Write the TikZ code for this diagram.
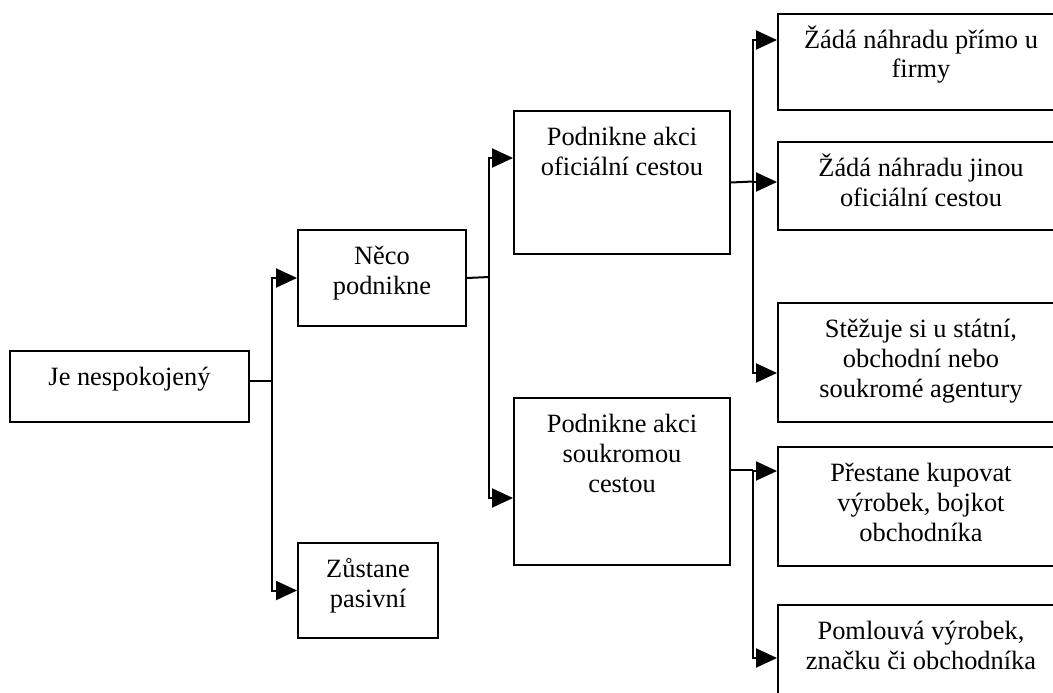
\documentclass[tikz,border=0pt]{standalone}
\usepackage{fontspec}
\setmainfont{Liberation Serif}
\usetikzlibrary{arrows.meta}
% box content: fixed width and height, text centred and hung from the top
\newcommand{\boxlines}[3]{\parbox[c][#2][t]{#1}{\centering\lineskiplimit=-20pt\rule{0pt}{34pt}#3\par}}
\begin{document}
\begin{tikzpicture}[x=1pt, y=-1pt,
  box/.style={draw, line width=2pt, inner sep=0pt, anchor=north west,
              font=\fontsize{26.4}{30}\selectfont},
  link/.style={line width=2pt},
  arr/.style={line width=2pt, -{Triangle[length=21pt,width=19pt]}}]
\useasboundingbox (0,0) rectangle (1053,693);

% level 0
\node[box] (A) at (9,350)  {\boxlines{239pt}{71pt}{Je nespokojený}};
% level 1
\node[box] (B) at (297,229) {\boxlines{168pt}{96pt}{Něco\\podnikne}};
\node[box] (C) at (297,542) {\boxlines{140pt}{95pt}{Zůstane\\pasivní}};
% level 2
\node[box] (D) at (513,110) {\boxlines{216pt}{143pt}{Podnikne akci\\oficiální cestou}};
\node[box] (E) at (513,397) {\boxlines{216pt}{167pt}{Podnikne akci\\soukromou\\cestou}};
% level 3
\node[box] (F) at (777,13)  {\boxlines{286pt}{96pt}{Žádá náhradu přímo u\\firmy}};
\node[box] (G) at (777,141) {\boxlines{286pt}{88pt}{Žádá náhradu jinou\\oficiální cestou}};
\node[box] (H) at (777,302) {\boxlines{286pt}{119pt}{Stěžuje si u státní,\\obchodní nebo\\soukromé agentury}};
\node[box] (I) at (777,446) {\boxlines{286pt}{119pt}{Přestane kupovat\\výrobek, bojkot\\obchodníka}};
\node[box] (J) at (777,604) {\boxlines{286pt}{100pt}{Pomlouvá výrobek,\\značku či obchodníka}};

% junctions and arrow entry points
\coordinate (j1) at (272,381);
\coordinate (j2) at (489,277);
\coordinate (j3) at (753,181.5);
\coordinate (outE) at (729,470);
\coordinate (j4) at (753,470);
\coordinate (inD) at (513,158);
\coordinate (inE) at (513,498);
\coordinate (inF) at (777,40);
\coordinate (inG) at (777,182);
\coordinate (inH) at (777,373);
\coordinate (inI) at (777,471);
\coordinate (inJ) at (777,658);

% connectors
\draw[link] (A.east |- j1) -- (j1);
\draw[arr] (j1) |- (B.west);
\draw[arr] (j1) |- (C.west);

\draw[link] (B.east) -- (j2);
\draw[arr] (j2) |- (inD);
\draw[arr] (j2) |- (inE);

\draw[link] (D.east) -- (j3);
\draw[arr] (j3) |- (inF);
\draw[arr] (j3) |- (inG);
\draw[arr] (j3) |- (inH);

\draw[link] (outE) -- (j4);
\draw[arr] (j4) |- (inI);
\draw[arr] (j4) |- (inJ);
\end{tikzpicture}
\end{document}
